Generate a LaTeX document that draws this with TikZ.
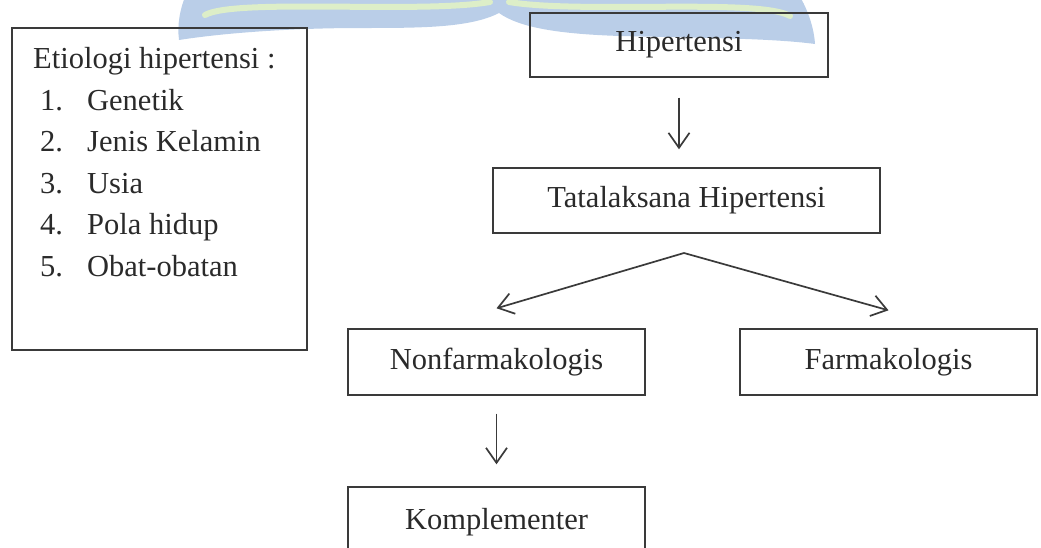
\documentclass[tikz,border=0pt]{standalone}
\usepackage{fontspec}
\setmainfont{Liberation Serif}
\usetikzlibrary{arrows.meta}
\definecolor{wmblue}{HTML}{BACEE8}
\definecolor{wmgreen}{HTML}{DDEEC8}
\definecolor{linec}{HTML}{3A3A3A}
\definecolor{txtc}{HTML}{2A2A2A}
\begin{document}
\begin{tikzpicture}[x=1pt,y=-1pt,
  box/.style={draw=linec, line width=1.4pt, inner sep=0pt, text=txtc, font=\fontsize{30.5}{36}\selectfont},
  lbl/.style={inner sep=0pt, text=txtc, font=\fontsize{30.5}{36}\selectfont, anchor=base west},
  arr/.style={draw=linec, line width=1.7pt, -{Straight Barb[length=15pt,width=21pt,line width=1.7pt]}},
  wmshape/.style={fill=wmblue, draw=none},
  wmline/.style={draw=wmgreen, line width=6pt, line cap=round}]
\useasboundingbox (0,0) rectangle (1041,547);
\clip (0,0) rectangle (1041,547);
% watermark
\path[wmshape] (186,-5) .. controls (180,8) and (177,25) .. (179,40)
  .. controls (230,32) and (300,28) .. (360,28)
  .. controls (420,28) and (470,28) .. (499,13)
  .. controls (520,28) and (560,34) .. (620,36)
  .. controls (700,38) and (770,38) .. (815,44)
  .. controls (814,28) and (808,10) .. (799,-5) -- cycle;
\draw[wmline] (205,15) .. controls (235,-2) and (420,14) .. (490,2);
\draw[wmline] (509,2) .. controls (580,14) and (760,-2) .. (790,16);
% etiologi box
\node[box, minimum width=295pt, minimum height=322pt] (etio) at (159.5,189) {};
\node[lbl] (t0) at (33,68) {Etiologi hipertensi :};
\node[lbl] (t1) at (40,110) {\makebox[47pt][l]{1.}Genetik};
\node[lbl] (t2) at (40,151.6) {\makebox[47pt][l]{2.}Jenis Kelamin};
\node[lbl] (t3) at (40,193.2) {\makebox[47pt][l]{3.}Usia};
\node[lbl] (t4) at (40,234.8) {\makebox[47pt][l]{4.}Pola hidup};
\node[lbl] (t5) at (40,276.4) {\makebox[47pt][l]{5.}Obat-obatan};
% flow boxes
\node[box, minimum width=298pt, minimum height=64pt] (hip) at (679,45) {Hipertensi};
\node[box, minimum width=387pt, minimum height=65pt] (tata) at (686.5,200.5) {Tatalaksana Hipertensi};
\node[box, minimum width=297pt, minimum height=66pt] (nonf) at (496.5,362) {Nonfarmakologis};
\node[box, minimum width=297pt, minimum height=66pt] (farm) at (888.5,362) {Farmakologis};
\node[box, minimum width=297pt, minimum height=70pt] (komp) at (496.5,522) {Komplementer};
\coordinate (apex) at (684,253);
% connectors
\draw[arr, shorten <=20pt, shorten >=18pt] (hip.south) -- (hip.south |- tata.north);
\draw[arr] (apex) -- ([yshift=20pt]nonf.north);
\draw[arr] (apex) -- ([yshift=18pt]farm.north);
\draw[arr, shorten <=18pt, shorten >=22pt] (nonf.south) -- (komp.north);
\end{tikzpicture}
\end{document}
